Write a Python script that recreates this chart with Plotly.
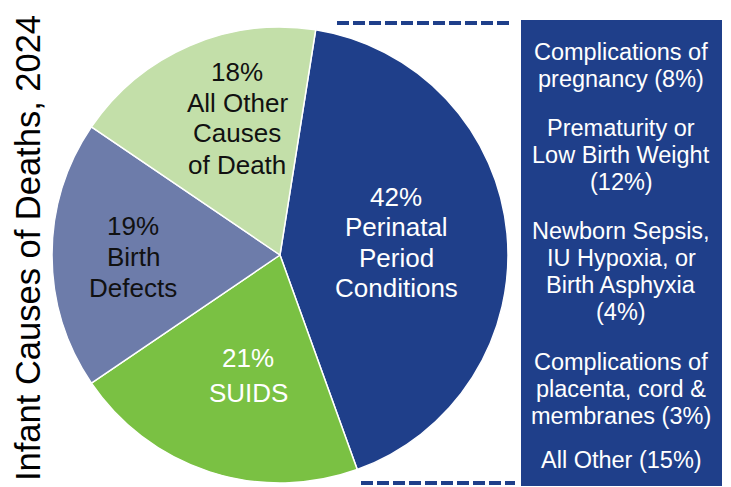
import plotly.graph_objects as go

# The page body adds an 8px margin; the figure is sized to fill the rest of the window.
OFF = 8
W, H = 731 - OFF, 487 - OFF

categories = ["Perinatal Period Conditions", "SUIDS", "Birth Defects", "All Other Causes of Death"]
label_lines = [["Perinatal", "Period", "Conditions"], ["SUIDS"], ["Birth", "Defects"], ["All Other", "Causes", "of Death"]]
values = [42, 21, 19, 18]
colors = ["#1f3f8a", "#7ac143", "#6d7caa", "#c3dfa9"]
text_colors = ["white", "white", "#111111", "#111111"]

breakdown_labels = [
    ["Complications of", "pregnancy"],
    ["Prematurity or", "Low Birth Weight"],
    ["Newborn Sepsis,", "IU Hypoxia, or", "Birth Asphyxia"],
    ["Complications of", "placenta, cord &", "membranes"],
    ["All Other"],
]
breakdown_values = [8, 12, 4, 3, 15]
breakdown_pct_own_line = [False, True, True, False, False]

title_text = "Infant Causes of Deaths, 2024"

FONT = "Liberation Sans, Arial, sans-serif"

def px(x):
    return (x - OFF) / W

def py(y):
    return 1 - (y - OFF) / H

fig = go.Figure()
fig.add_trace(go.Pie(
    labels=categories,
    values=values,
    sort=False,
    direction="clockwise",
    rotation=9,
    marker=dict(colors=colors, line=dict(color="white", width=1.5)),
    textinfo="none",
    hoverinfo="label+percent",
    showlegend=False,
    domain=dict(x=[px(52), px(508)], y=[py(483), py(27)]),
))

annotations = []

def add_line(text, cx, cy, size, color):
    annotations.append(dict(
        x=px(cx), y=py(cy), xref="paper", yref="paper",
        text=text, showarrow=False, xanchor="center", yanchor="middle",
        font=dict(family=FONT, size=size, color=color),
        align="center", borderpad=0,
    ))

# Slice labels: centre x and line centre ys (pixels)
label_x = [396, 248, 133, 237]
label_ys = [[197, 227, 258, 288], [358, 393], [226, 257, 288], [72, 103, 133, 165]]
for i in range(len(values)):
    lines = [f"{values[i]}%"] + label_lines[i]
    for ln, y in zip(lines, label_ys[i]):
        add_line(ln, label_x[i], y, 26, text_colors[i])

# Breakdown box texts
box_ys = [[52, 79], [128, 155, 182], [231, 258, 285, 312], [362, 389, 416], [460]]
for i in range(len(breakdown_values)):
    lines = list(breakdown_labels[i])
    pct = f"({breakdown_values[i]}%)"
    if breakdown_pct_own_line[i]:
        lines.append(pct)
    else:
        lines[-1] = lines[-1] + " " + pct
    for ln, y in zip(lines, box_ys[i]):
        add_line(ln, 621, y, 23.5, "white")

annotations.append(dict(
    x=px(28), y=py(248), xref="paper", yref="paper",
    text=title_text, showarrow=False, textangle=-90,
    xanchor="center", yanchor="middle", borderpad=0,
    font=dict(family=FONT, size=34.5, color="black"),
))

shapes = [
    dict(type="rect", xref="paper", yref="paper",
         x0=px(521), x1=px(722), y0=py(486), y1=py(20),
         fillcolor="#1f3f8a", line=dict(width=0), layer="below"),
    dict(type="line", xref="paper", yref="paper",
         x0=px(337), x1=px(513), y0=py(23), y1=py(23),
         line=dict(color="#1f3f8a", width=4, dash="12px,4px")),
    dict(type="line", xref="paper", yref="paper",
         x0=px(361), x1=px(515), y0=py(483), y1=py(483),
         line=dict(color="#1f3f8a", width=4, dash="12px,4px")),
]

fig.update_layout(
    width=W, height=H,
    margin=dict(l=0, r=0, t=0, b=0),
    paper_bgcolor="white", plot_bgcolor="white",
    annotations=annotations, shapes=shapes,
)

fig.write_html("out.html")
